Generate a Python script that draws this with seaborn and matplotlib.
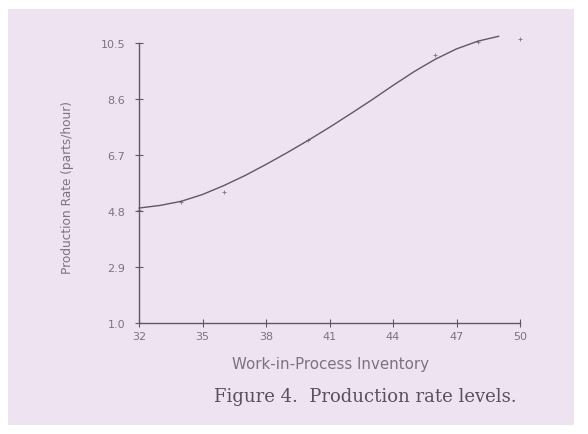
import matplotlib.pyplot as plt
import matplotlib.patches as mpatches
import pandas as pd
import seaborn as sns

# Fitted curve
curve_wip = [32, 33, 34, 35, 36, 37, 38, 39, 40, 41, 42, 43, 44, 45, 46, 47, 48, 49]
curve_rate = [4.9, 4.99, 5.13, 5.36, 5.66, 6.0, 6.38, 6.78, 7.2, 7.64, 8.1,
              8.57, 9.06, 9.53, 9.95, 10.3, 10.56, 10.73]

# Simulated points (faint marks near the curve)
point_wip = [32, 34, 36, 40, 46, 48, 50]
point_rate = [4.85, 5.12, 5.45, 7.2, 10.1, 10.55, 10.65]

x_ticks = [32, 35, 38, 41, 44, 47, 50]
y_ticks = [1.0, 2.9, 4.8, 6.7, 8.6, 10.5]

curve = pd.DataFrame({"wip": curve_wip, "rate": curve_rate})
points = pd.DataFrame({"wip": point_wip, "rate": point_rate})

sns.set_theme(style="white")
plt.rcParams["font.family"] = ["DejaVu Sans"]

paper = "#eee4f1"
ink = "#5e5868"
text_col = "#7a7382"

fig = plt.figure(figsize=(5.88, 4.35), dpi=100, facecolor="white")
fig.patches.append(mpatches.Rectangle((8 / 588, 9 / 435), 566 / 588, 416 / 435,
                                      transform=fig.transFigure, facecolor=paper,
                                      edgecolor="none", zorder=-5))

ax = fig.add_axes([139 / 588, (435 - 324) / 435, 381 / 588, 280 / 435])
ax.set_facecolor("none")
ax.set_zorder(2)

sns.lineplot(data=curve, x="wip", y="rate", ax=ax, color=ink, linewidth=1.0,
             clip_on=False)
sns.scatterplot(data=points, x="wip", y="rate", ax=ax, marker="+", s=10,
                color=text_col, linewidth=0.6, clip_on=False)

ax.set_xlim(32, 50)
ax.set_ylim(1.0, 10.5)
ax.set_xticks(x_ticks)
ax.set_yticks(y_ticks)
ax.set_xticklabels([str(v) for v in x_ticks])
ax.set_yticklabels([f"{v:.1f}" for v in y_ticks])

for side in ["top", "right"]:
    ax.spines[side].set_visible(False)
for side in ["left", "bottom"]:
    ax.spines[side].set_color(ink)
    ax.spines[side].set_linewidth(1.0)

ax.tick_params(axis="both", direction="inout", length=6, width=0.8, color=ink,
               labelsize=8, labelcolor=text_col, bottom=True, left=True)
ax.tick_params(axis="y", pad=7)
ax.tick_params(axis="x", pad=3)

ax.set_xlabel("")
ax.set_ylabel("")
fig.text(331 / 588, 1 - 365 / 435, "Work-in-Process Inventory", fontsize=10.8,
         color=text_col, ha="center", va="center")
fig.text(67 / 588, 1 - 187 / 435, "Production Rate (parts/hour)", fontsize=8.7,
         color=text_col, ha="center", va="center", rotation=90)
fig.text(365 / 588, 1 - 397 / 435, "Figure 4.  Production rate levels.",
         fontsize=13, color="#57505f", ha="center", va="center",
         family=["DejaVu Serif"])

fig.savefig("out.png", dpi=100, facecolor=fig.get_facecolor())
plt.close(fig)
